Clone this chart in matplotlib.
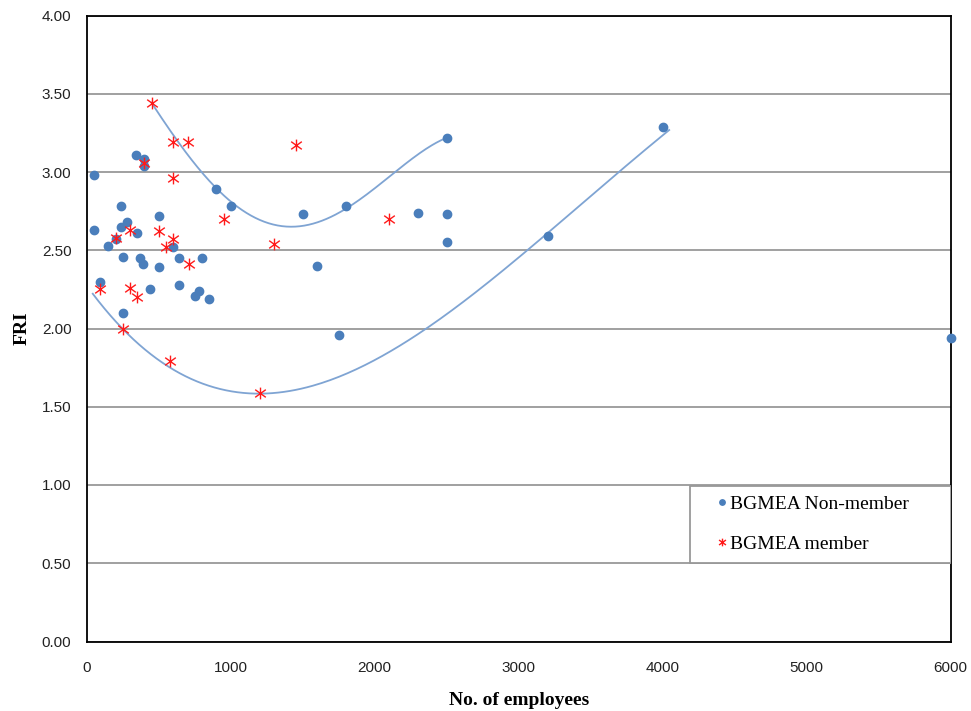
import matplotlib
matplotlib.use('Agg')
import numpy as np
import matplotlib.pyplot as plt
from matplotlib.path import Path
from matplotlib.patches import Rectangle

# BGMEA non-member firms (blue dots)
non_x = [340, 400, 400, 50, 900, 1000, 240, 500, 50, 280, 240, 350, 200, 150,
         600, 250, 370, 390, 500, 640, 800, 90, 440, 640, 750, 780, 850, 250,
         1500, 1800, 1600, 1750, 2300, 2500, 2500, 2500, 3200, 4000, 6000]
non_y = [3.11, 3.08, 3.04, 2.98, 2.89, 2.78, 2.78, 2.72, 2.63, 2.68, 2.65, 2.61, 2.57, 2.53,
         2.52, 2.46, 2.45, 2.41, 2.39, 2.45, 2.45, 2.30, 2.25, 2.28, 2.21, 2.24, 2.19, 2.10,
         2.73, 2.78, 2.40, 1.96, 2.74, 3.22, 2.73, 2.55, 2.59, 3.29, 1.94]

# BGMEA member firms (red stars)
mem_x = [450, 600, 700, 1450, 400, 600, 950, 2100, 300, 500, 200, 600, 550, 1300,
         710, 90, 300, 350, 250, 580, 1200]
mem_y = [3.44, 3.19, 3.19, 3.17, 3.06, 2.96, 2.70, 2.70, 2.63, 2.62, 2.58, 2.57, 2.52, 2.54,
         2.41, 2.25, 2.26, 2.20, 2.00, 1.79, 1.59]

# points
trend_a_x = [450, 648, 801, 995, 1391, 1829, 2037, 2176, 2500]
trend_a_y = [3.43, 3.20, 3.01, 2.78, 2.655, 2.80, 2.93, 3.00, 3.225]
trend_b_x = [42, 245, 578, 1134, 2106, 2335, 3057, 3196, 3565, 4045]
trend_b_y = [2.214, 2.00, 1.785, 1.548, 1.86, 2.00, 2.50, 2.59, 2.90, 3.27]

x_ticks = [0, 1000, 2000, 3000, 4000, 5000, 6000]
y_ticks = [0.0, 0.5, 1.0, 1.5, 2.0, 2.5, 3.0, 3.5, 4.0]

DOT = '#4a7ebb'
TREND = '#7fa4d3'

star = Path([(0, -1), (0, 1), (-0.9, -0.65), (0.9, 0.65), (-0.9, 0.65), (0.9, -0.65)],
            [Path.MOVETO, Path.LINETO] * 3)

fig = plt.figure(figsize=(9.71, 7.11), dpi=100)
ax = fig.add_axes([86.7 / 971, 69.5 / 711, 864 / 971, 626 / 711])

for tx, ty in [(trend_a_x, trend_a_y), (trend_b_x, trend_b_y)]:
    c = np.polyfit(tx, ty, 4)
    xs = np.linspace(tx[0], tx[-1], 200)
    ax.plot(xs, np.polyval(c, xs), color=TREND, lw=1.3, zorder=2)

ax.plot(non_x, non_y, linestyle='none', marker='o', ms=6, color=DOT, mec=DOT,
        label='BGMEA Non-member', zorder=3, clip_on=False)
ax.plot(mem_x, mem_y, linestyle='none', marker=star, ms=8.5, mfc='none', mec='#ff1a1a',
        mew=1.0, label='BGMEA member', zorder=4)

ax.set_xlim(0, 6000)
ax.set_ylim(0, 4)
ax.set_xticks(x_ticks)
ax.set_yticks(y_ticks)
ax.set_yticklabels(['%.2f' % v for v in y_ticks])
ax.tick_params(axis='both', length=0, labelsize=11, labelcolor='#222222')
ax.tick_params(axis='y', pad=11)
ax.tick_params(axis='x', pad=14)
for lab in ax.get_xticklabels() + ax.get_yticklabels():
    lab.set_family('Liberation Sans')

ax.grid(axis='y', color='#999999', lw=1.3)
ax.set_axisbelow(True)
for s in ax.spines.values():
    s.set_color('black')
    s.set_linewidth(1.3)

ax.set_xlabel('No. of employees', family='Liberation Serif', fontweight='bold',
              fontsize=14, va='center')
ax.xaxis.set_label_coords(0.5, -0.095)
ax.set_ylabel('FRI', family='Liberation Serif', fontweight='bold', fontsize=14, va='center')
ax.yaxis.set_label_coords(-0.075, 0.5)

# legend box drawn separately, entries placed inside it
box = Rectangle((0.698, 0.126), 0.302, 0.122, transform=ax.transAxes, facecolor='white',
                edgecolor='#999999', lw=1.3, zorder=5)
ax.add_patch(box)
leg = ax.legend(loc='center left', bbox_to_anchor=(0.728, 0.187),
                prop={'family': 'Liberation Serif', 'size': 14}, frameon=False,
                handlelength=0.6, handletextpad=0.15, labelspacing=1.15, borderpad=0,
                markerscale=0.65, borderaxespad=0)
leg.set_zorder(6)

fig.savefig('out.png', dpi=100)
